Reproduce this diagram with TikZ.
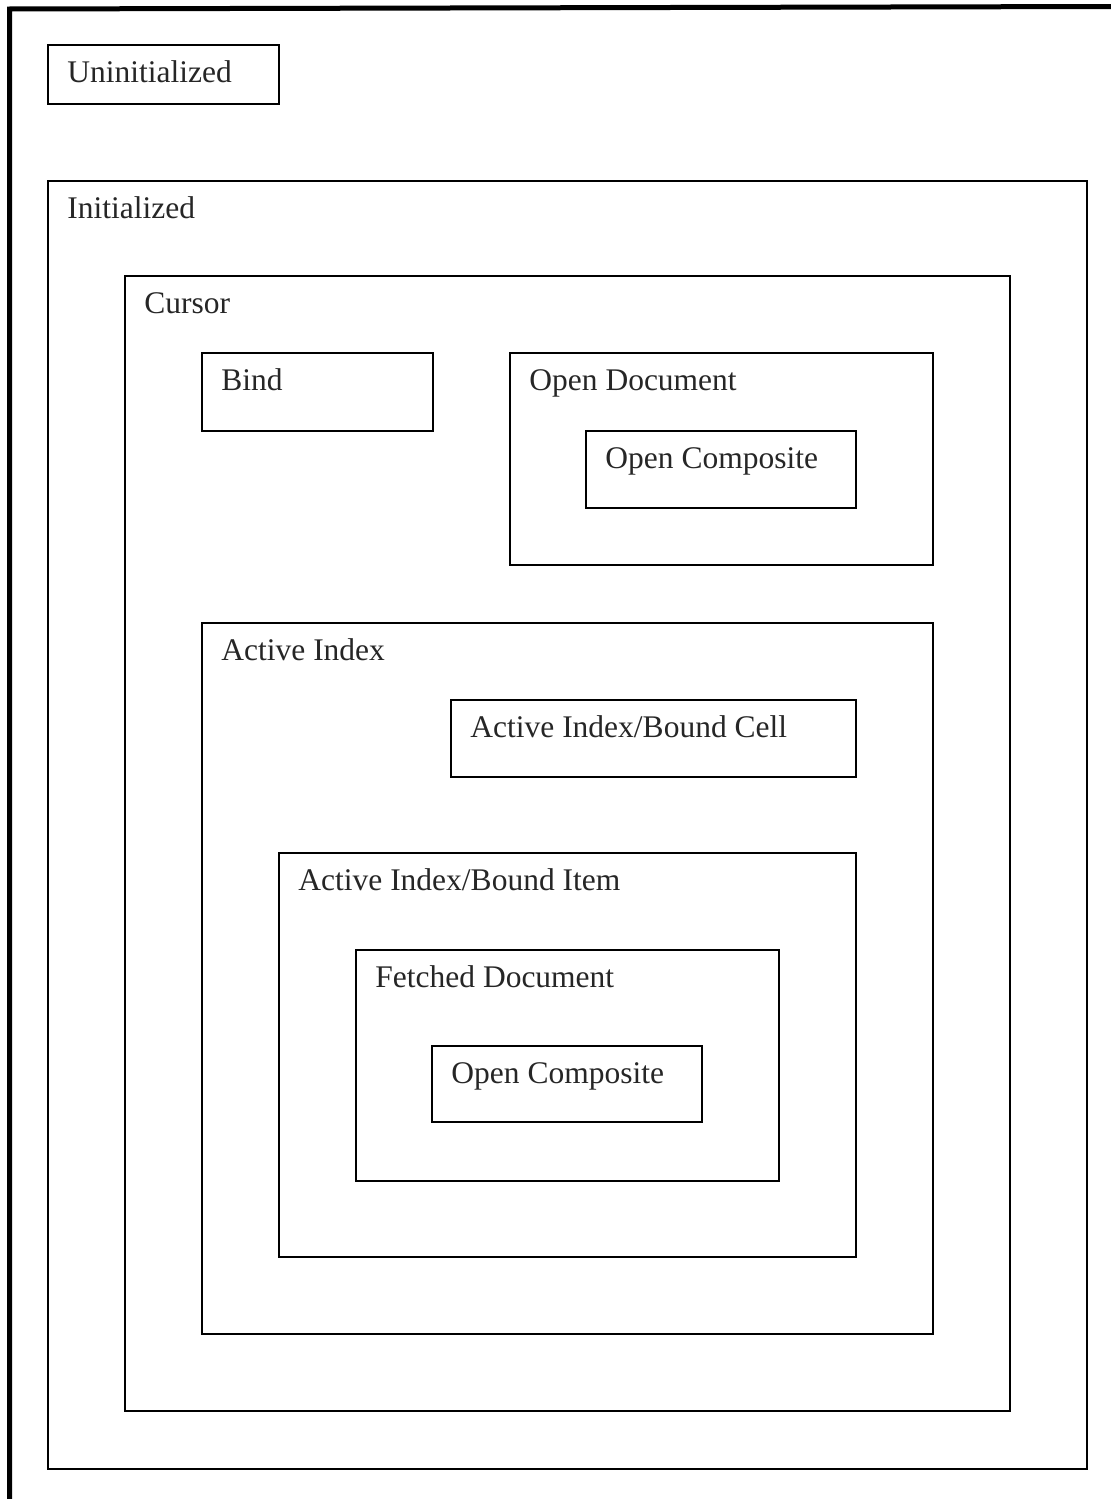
\documentclass[tikz,border=0pt]{standalone}
\usepackage{fontspec}
\setmainfont{Liberation Serif}
\usetikzlibrary{fit}
\tikzset{
  box/.style={draw=black, line width=1pt, inner sep=0pt, rectangle},
  lbl/.style={anchor=base west, inner sep=0pt, font=\fontsize{15.75pt}{18pt}\selectfont, text=black!85},
  frame/.style={line width=2.5pt, black}
}
\newcommand{\stbox}[6]{%
  \node[box, fit={(#2,#3) (#4,#5)}] (#1) {};
  \node[lbl] (#1-l) at ([xshift=10pt,yshift=-19.3pt]#1.north west) {#6};
}
\begin{document}
\begin{tikzpicture}[x=0.5pt,y=-0.5pt]
\useasboundingbox (0,0) rectangle (1111,1499);
\coordinate (fa) at (9.5,1499);
\coordinate (fb) at (9.5,6.5);
\coordinate (fc) at (1111,6.5);
\draw[frame] (fa) -- ([yshift=-1.25pt]fb) -- (fc);
\stbox{uninit}{48}{45}{279}{104}{Uninitialized}
\stbox{init}{48}{181}{1087}{1469}{Initialized}
\stbox{cursor}{125}{276}{1010}{1411}{Cursor}
\stbox{bind}{202}{353}{433}{431}{Bind}
\stbox{opendoc}{510}{353}{933}{565}{Open Document}
\stbox{opencompa}{586}{431}{856}{508}{Open Composite}
\stbox{active}{202}{623}{933}{1334}{Active Index}
\stbox{cell}{451}{700}{856}{777}{Active Index/Bound Cell}
\stbox{item}{279}{853}{856}{1257}{Active Index/Bound Item}
\stbox{fetched}{356}{950}{779}{1181}{Fetched Document}
\stbox{opencompb}{432}{1046}{702}{1122}{Open Composite}
\end{tikzpicture}
\end{document}
